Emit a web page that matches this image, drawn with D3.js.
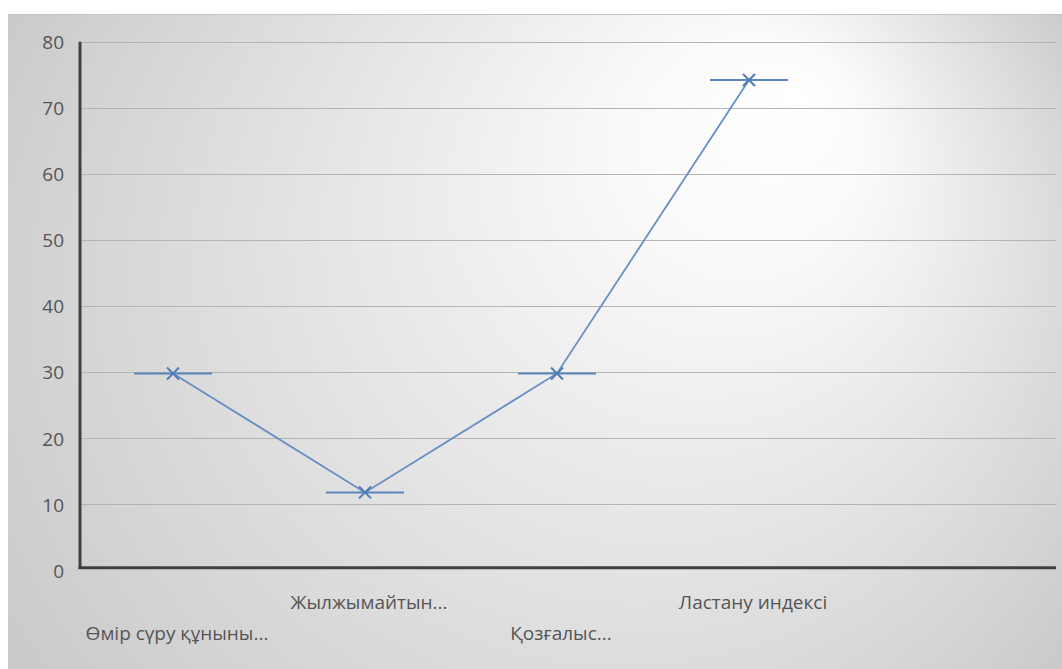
<!DOCTYPE html>
<html>
<head>
<meta charset="utf-8">
<script src="https://cdn.jsdelivr.net/npm/d3@7"></script>
<style>
  html, body { margin: 0; padding: 0; background: #ffffff; }
  svg { display: block; }
  text { font-family: "Open Sans", "Noto Sans", sans-serif; fill: #555555; }
</style>
</head>
<body>
<svg id="chart" width="1062" height="669"></svg>
<script>
const categories = ["Өмір сүру құныны...", "Жылжымайтын...", "Қозғалыс...", "Ластану индексі", ""];
const values = [29.8, 11.8, 29.8, 74.2];
const yTicks = [0, 10, 20, 30, 40, 50, 60, 70, 80];

const W = 1062, H = 669;
const svg = d3.select("#chart");

// background panel with radial gradient
const defs = svg.append("defs");
const grad = defs.append("radialGradient")
  .attr("id", "bg")
  .attr("gradientUnits", "userSpaceOnUse")
  .attr("cx", 530).attr("cy", 340).attr("r", 650)
  .attr("fx", 800).attr("fy", 85)
  .attr("gradientTransform", "translate(530,340) scale(1,0.95) translate(-530,-340)");
grad.append("stop").attr("offset", 0).attr("stop-color", "#ffffff");
grad.append("stop").attr("offset", 0.18).attr("stop-color", "#fafafa");
grad.append("stop").attr("offset", 0.55).attr("stop-color", "#e3e3e3");
grad.append("stop").attr("offset", 1).attr("stop-color", "#c8c8c8");

svg.append("rect").attr("x", 0).attr("y", 0).attr("width", W).attr("height", H).attr("fill", "#ffffff");
svg.append("rect").attr("x", 8).attr("y", 14).attr("width", W - 8).attr("height", H - 14).attr("fill", "url(#bg)");
svg.append("line").attr("x1", 8).attr("x2", W).attr("y1", 14.5).attr("y2", 14.5)
  .attr("stroke", "#c4c4c4").attr("stroke-width", 1);

const plotLeft = 80, plotRight = 1056;
const x = d3.scaleBand().domain(d3.range(categories.length)).range([77, 1037]);
const y = d3.scaleLinear().domain([0, 80]).range([570.4, 41.7]);

// gridlines
svg.append("g").selectAll("line").data(yTicks.filter(t => t > 0)).join("line")
  .attr("x1", plotLeft).attr("x2", plotRight)
  .attr("y1", d => Math.round(y(d)) + 0.5).attr("y2", d => Math.round(y(d)) + 0.5)
  .attr("stroke", "#b4b4b4").attr("stroke-width", 1.2);

// y axis tick labels
const yAxis = d3.axisLeft(y).tickValues(yTicks).tickSize(0).tickPadding(0);
const gy = svg.append("g").attr("transform", "translate(64,0)").call(yAxis);
gy.select(".domain").remove();
gy.selectAll("text").style("font-family", "'Open Sans', 'Noto Sans', sans-serif")
  .style("font-size", "19px").attr("fill", "#555555").attr("dy", "0.36em");

// axis lines
svg.append("line").attr("x1", plotLeft).attr("x2", plotLeft).attr("y1", y(80)).attr("y2", 569)
  .attr("stroke", "#404040").attr("stroke-width", 3);
svg.append("line").attr("x1", plotLeft - 1.5).attr("x2", plotRight).attr("y1", 567.8).attr("y2", 567.8)
  .attr("stroke", "#404040").attr("stroke-width", 3);

// category labels (staggered)
svg.append("g").selectAll("text").data(categories).join("text")
  .attr("x", (d, i) => x(i) + x.bandwidth() / 2 + 4)
  .attr("y", (d, i) => i % 2 === 0 ? 640 : 609)
  .attr("text-anchor", "middle")
  .style("font-size", "19px")
  .text(d => d);

// line
const cx = (d, i) => x(i) + x.bandwidth() / 2;
const lineGen = d3.line().x((d, i) => cx(d, i)).y(d => y(d));
svg.append("path").datum(values).attr("d", lineGen)
  .attr("fill", "none").attr("stroke", "#6690c4").attr("stroke-width", 1.8);

// markers: x plus long horizontal dash
const mk = svg.append("g").selectAll("g").data(values).join("g")
  .attr("transform", (d, i) => `translate(${cx(d, i)},${y(d)})`);
mk.append("line").attr("x1", -39).attr("x2", 39).attr("y1", 0).attr("y2", 0)
  .attr("stroke", "#5b86bd").attr("stroke-width", 2);
mk.append("path").attr("d", "M-6,-6L6,6M-6,6L6,-6")
  .attr("stroke", "#4f7cb5").attr("stroke-width", 2).attr("fill", "none");
</script>
</body>
</html>
